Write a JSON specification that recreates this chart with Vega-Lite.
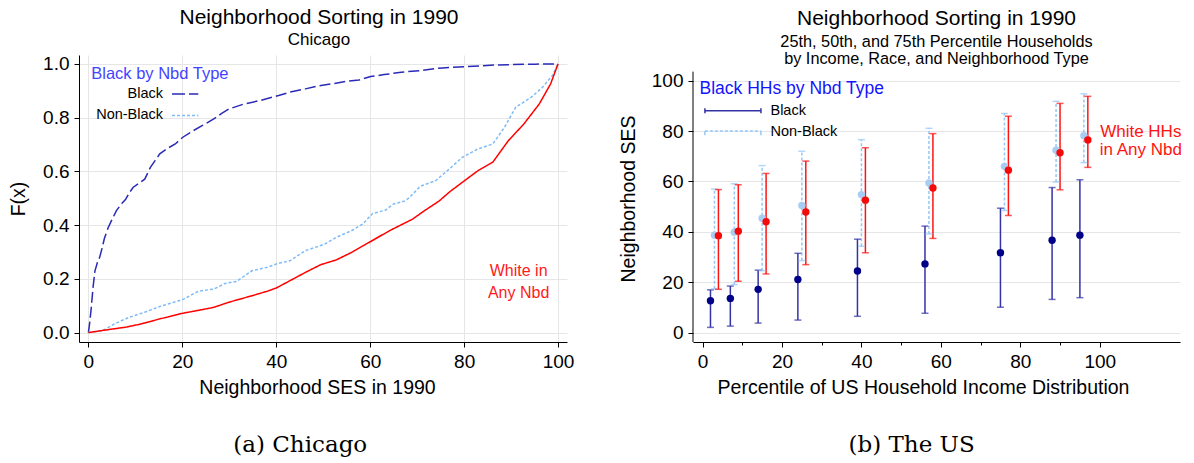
{
  "$schema": "https://vega.github.io/schema/vega-lite/v6.json",
  "background": "white",
  "padding": {"left": 8, "top": 6, "right": 4, "bottom": 4},
  "spacing": 44,
  "datasets": {
    "cdf": [
      {"group": "Black", "ses": 0, "F": 0},
      {"group": "Black", "ses": 0.3, "F": 0.04},
      {"group": "Black", "ses": 0.6, "F": 0.09},
      {"group": "Black", "ses": 1.0, "F": 0.17},
      {"group": "Black", "ses": 1.4, "F": 0.23},
      {"group": "Black", "ses": 1.9, "F": 0.26},
      {"group": "Black", "ses": 2.4, "F": 0.28},
      {"group": "Black", "ses": 3.0, "F": 0.32},
      {"group": "Black", "ses": 3.4, "F": 0.35},
      {"group": "Black", "ses": 4.2, "F": 0.39},
      {"group": "Black", "ses": 5.0, "F": 0.42},
      {"group": "Black", "ses": 6.0, "F": 0.455},
      {"group": "Black", "ses": 7.1, "F": 0.48},
      {"group": "Black", "ses": 7.9, "F": 0.495},
      {"group": "Black", "ses": 8.7, "F": 0.52},
      {"group": "Black", "ses": 9.5, "F": 0.54},
      {"group": "Black", "ses": 10.7, "F": 0.555},
      {"group": "Black", "ses": 12.0, "F": 0.571},
      {"group": "Black", "ses": 13.2, "F": 0.615},
      {"group": "Black", "ses": 14.2, "F": 0.64},
      {"group": "Black", "ses": 15.2, "F": 0.665},
      {"group": "Black", "ses": 16.8, "F": 0.685},
      {"group": "Black", "ses": 18.5, "F": 0.702},
      {"group": "Black", "ses": 20.1, "F": 0.727},
      {"group": "Black", "ses": 22.0, "F": 0.748},
      {"group": "Black", "ses": 24.2, "F": 0.77},
      {"group": "Black", "ses": 26.7, "F": 0.795},
      {"group": "Black", "ses": 28.3, "F": 0.815},
      {"group": "Black", "ses": 29.9, "F": 0.832},
      {"group": "Black", "ses": 33.0, "F": 0.85},
      {"group": "Black", "ses": 36.4, "F": 0.863},
      {"group": "Black", "ses": 40.5, "F": 0.882},
      {"group": "Black", "ses": 43.0, "F": 0.895},
      {"group": "Black", "ses": 46.2, "F": 0.907},
      {"group": "Black", "ses": 49.0, "F": 0.918},
      {"group": "Black", "ses": 52.7, "F": 0.928},
      {"group": "Black", "ses": 55.0, "F": 0.935},
      {"group": "Black", "ses": 57.6, "F": 0.94},
      {"group": "Black", "ses": 60.1, "F": 0.953},
      {"group": "Black", "ses": 63.0, "F": 0.96},
      {"group": "Black", "ses": 66.6, "F": 0.969},
      {"group": "Black", "ses": 70.7, "F": 0.975},
      {"group": "Black", "ses": 74.7, "F": 0.984},
      {"group": "Black", "ses": 80.4, "F": 0.99},
      {"group": "Black", "ses": 87.0, "F": 0.996},
      {"group": "Black", "ses": 95.1, "F": 0.999},
      {"group": "Black", "ses": 100, "F": 1.0},
      {"group": "Non-Black", "ses": 0, "F": 0},
      {"group": "Non-Black", "ses": 3.0, "F": 0.007},
      {"group": "Non-Black", "ses": 5.5, "F": 0.032},
      {"group": "Non-Black", "ses": 8.7, "F": 0.057},
      {"group": "Non-Black", "ses": 12.0, "F": 0.076},
      {"group": "Non-Black", "ses": 15.2, "F": 0.097},
      {"group": "Non-Black", "ses": 20.1, "F": 0.123},
      {"group": "Non-Black", "ses": 23.4, "F": 0.154},
      {"group": "Non-Black", "ses": 26.7, "F": 0.162},
      {"group": "Non-Black", "ses": 29.1, "F": 0.183},
      {"group": "Non-Black", "ses": 31.5, "F": 0.19},
      {"group": "Non-Black", "ses": 34.8, "F": 0.23},
      {"group": "Non-Black", "ses": 38.1, "F": 0.243},
      {"group": "Non-Black", "ses": 40.5, "F": 0.258},
      {"group": "Non-Black", "ses": 42.9, "F": 0.267},
      {"group": "Non-Black", "ses": 46.2, "F": 0.305},
      {"group": "Non-Black", "ses": 50.3, "F": 0.329},
      {"group": "Non-Black", "ses": 52.7, "F": 0.354},
      {"group": "Non-Black", "ses": 56.0, "F": 0.379},
      {"group": "Non-Black", "ses": 58.4, "F": 0.404},
      {"group": "Non-Black", "ses": 60.5, "F": 0.443},
      {"group": "Non-Black", "ses": 63.3, "F": 0.456},
      {"group": "Non-Black", "ses": 64.9, "F": 0.478},
      {"group": "Non-Black", "ses": 67.4, "F": 0.49},
      {"group": "Non-Black", "ses": 68.2, "F": 0.5},
      {"group": "Non-Black", "ses": 70.7, "F": 0.545},
      {"group": "Non-Black", "ses": 73.9, "F": 0.565},
      {"group": "Non-Black", "ses": 76.4, "F": 0.602},
      {"group": "Non-Black", "ses": 79.6, "F": 0.652},
      {"group": "Non-Black", "ses": 82.9, "F": 0.683},
      {"group": "Non-Black", "ses": 86.1, "F": 0.702},
      {"group": "Non-Black", "ses": 88.6, "F": 0.764},
      {"group": "Non-Black", "ses": 91.0, "F": 0.839},
      {"group": "Non-Black", "ses": 94.3, "F": 0.876},
      {"group": "Non-Black", "ses": 96.7, "F": 0.913},
      {"group": "Non-Black", "ses": 98.8, "F": 0.957},
      {"group": "Non-Black", "ses": 100, "F": 1.0},
      {"group": "White", "ses": 0, "F": 0},
      {"group": "White", "ses": 3.8, "F": 0.01},
      {"group": "White", "ses": 7.9, "F": 0.02},
      {"group": "White", "ses": 11.2, "F": 0.032},
      {"group": "White", "ses": 15.2, "F": 0.051},
      {"group": "White", "ses": 20.1, "F": 0.072},
      {"group": "White", "ses": 23.5, "F": 0.083},
      {"group": "White", "ses": 26.7, "F": 0.094},
      {"group": "White", "ses": 29.9, "F": 0.113},
      {"group": "White", "ses": 34.8, "F": 0.137},
      {"group": "White", "ses": 38.1, "F": 0.154},
      {"group": "White", "ses": 40.0, "F": 0.166},
      {"group": "White", "ses": 42.9, "F": 0.193},
      {"group": "White", "ses": 46.2, "F": 0.224},
      {"group": "White", "ses": 49.5, "F": 0.253},
      {"group": "White", "ses": 52.7, "F": 0.27},
      {"group": "White", "ses": 56.0, "F": 0.298},
      {"group": "White", "ses": 60.1, "F": 0.339},
      {"group": "White", "ses": 64.1, "F": 0.379},
      {"group": "White", "ses": 69.0, "F": 0.422},
      {"group": "White", "ses": 71.5, "F": 0.453},
      {"group": "White", "ses": 74.7, "F": 0.49},
      {"group": "White", "ses": 77.0, "F": 0.525},
      {"group": "White", "ses": 79.6, "F": 0.559},
      {"group": "White", "ses": 82.9, "F": 0.602},
      {"group": "White", "ses": 86.1, "F": 0.634},
      {"group": "White", "ses": 89.4, "F": 0.714},
      {"group": "White", "ses": 92.7, "F": 0.776},
      {"group": "White", "ses": 96.0, "F": 0.851},
      {"group": "White", "ses": 98.4, "F": 0.925},
      {"group": "White", "ses": 100, "F": 1.0}
    ],
    "ranges": [
      {"group": "Non-Black", "pctile": 3, "p25": 17.4, "p50": 38.7, "p75": 57.0},
      {"group": "Non-Black", "pctile": 8, "p25": 19.1, "p50": 39.9, "p75": 59.1},
      {"group": "Non-Black", "pctile": 15, "p25": 24.6, "p50": 45.4, "p75": 66.3},
      {"group": "Non-Black", "pctile": 25, "p25": 28.6, "p50": 50.5, "p75": 72.0},
      {"group": "Non-Black", "pctile": 40, "p25": 34.3, "p50": 54.8, "p75": 76.6},
      {"group": "Non-Black", "pctile": 57, "p25": 39.2, "p50": 59.4, "p75": 81.1},
      {"group": "Non-Black", "pctile": 76, "p25": 48.5, "p50": 66.0, "p75": 87.0},
      {"group": "Non-Black", "pctile": 89, "p25": 59.8, "p50": 72.4, "p75": 91.8},
      {"group": "Non-Black", "pctile": 96, "p25": 67.5, "p50": 78.2, "p75": 94.8},
      {"group": "Black", "pctile": 2, "p25": 2.1, "p50": 12.7, "p75": 17.0},
      {"group": "Black", "pctile": 7, "p25": 2.6, "p50": 13.6, "p75": 18.5},
      {"group": "Black", "pctile": 14, "p25": 3.8, "p50": 17.2, "p75": 24.8},
      {"group": "Black", "pctile": 24, "p25": 5.0, "p50": 21.1, "p75": 31.5},
      {"group": "Black", "pctile": 39, "p25": 6.5, "p50": 24.5, "p75": 37.1},
      {"group": "Black", "pctile": 56, "p25": 7.7, "p50": 27.3, "p75": 42.3},
      {"group": "Black", "pctile": 75, "p25": 10.1, "p50": 31.7, "p75": 49.4},
      {"group": "Black", "pctile": 88, "p25": 13.2, "p50": 36.7, "p75": 57.6},
      {"group": "Black", "pctile": 95, "p25": 13.9, "p50": 38.7, "p75": 60.7},
      {"group": "White", "pctile": 4, "p25": 17.2, "p50": 38.5, "p75": 56.8},
      {"group": "White", "pctile": 9, "p25": 20.4, "p50": 40.3, "p75": 58.7},
      {"group": "White", "pctile": 16, "p25": 23.3, "p50": 44.0, "p75": 63.2},
      {"group": "White", "pctile": 26, "p25": 27.0, "p50": 47.9, "p75": 68.1},
      {"group": "White", "pctile": 41, "p25": 31.7, "p50": 52.6, "p75": 73.4},
      {"group": "White", "pctile": 58, "p25": 37.4, "p50": 57.4, "p75": 79.0},
      {"group": "White", "pctile": 77, "p25": 46.5, "p50": 64.5, "p75": 85.9},
      {"group": "White", "pctile": 90, "p25": 56.7, "p50": 71.4, "p75": 91.0},
      {"group": "White", "pctile": 97, "p25": 65.6, "p50": 76.5, "p75": 93.8}
    ]
  },
  "hconcat": [
    {
      "title": {"text": "(a) Chicago", "orient": "bottom", "anchor": "middle", "frame": "bounds", "font": "DejaVu Serif", "fontSize": 23, "fontWeight": "normal", "offset": 37, "dx": 9},
      "vconcat": [
        {
          "width": 488,
          "height": 287,
          "title": {"text": "Neighborhood Sorting in 1990", "subtitle": "Chicago", "fontSize": 21, "subtitleFontSize": 17, "subtitlePadding": 4, "offset": 7, "anchor": "middle", "dx": -4},
          "layer": [
            {
              "data": {"name": "cdf"},
              "mark": {"type": "line", "strokeWidth": 1.5, "interpolate": "linear"},
              "encoding": {
                "x": {"field": "ses", "type": "quantitative",
                  "scale": {"domain": [-2, 101.9], "nice": false, "zero": false},
                  "axis": {"values": [0, 20, 40, 60, 80, 100], "title": "Neighborhood SES in 1990", "titleX": 238, "grid": true, "titlePadding": 7, "labelFlush": false, "labelOverlap": false}},
                "y": {"field": "F", "type": "quantitative",
                  "scale": {"domain": [-0.035, 1.033], "nice": false, "zero": false},
                  "axis": {"values": [0, 0.2, 0.4, 0.6, 0.8, 1.0], "format": ".1f", "title": "F(x)", "grid": true, "titlePadding": 14, "labelOverlap": false}},
                "color": {"field": "group", "type": "nominal", "legend": null,
                  "scale": {"domain": ["Black", "Non-Black", "White"], "range": ["#2a2ab8", "#7fbcf7", "#ff0000"]}},
                "strokeDash": {"field": "group", "type": "nominal", "legend": null,
                  "scale": {"domain": ["Black", "Non-Black", "White"], "range": [[11, 4], [3, 2], [1, 0]]}}
              }
            },
            {
              "data": {"values": [{}]},
              "mark": {"type": "text", "text": "Black by Nbd Type", "align": "left", "baseline": "middle", "fontSize": 16.5, "color": "#4444ff"},
              "encoding": {"x": {"datum": 0.6, "type": "quantitative"}, "y": {"datum": 0.963, "type": "quantitative"}}
            },
            {
              "data": {"values": [{}]},
              "mark": {"type": "text", "text": "Black", "align": "right", "baseline": "middle", "fontSize": 14.5, "color": "#000"},
              "encoding": {"x": {"datum": 15.9, "type": "quantitative"}, "y": {"datum": 0.888, "type": "quantitative"}}
            },
            {
              "data": {"values": [{}]},
              "mark": {"type": "rule", "color": "#2a2ab8", "strokeWidth": 1.5, "strokeDash": [13, 4]},
              "encoding": {"x": {"datum": 17.8, "type": "quantitative"}, "x2": {"datum": 23.4}, "y": {"datum": 0.888, "type": "quantitative"}}
            },
            {
              "data": {"values": [{}]},
              "mark": {"type": "text", "text": "Non-Black", "align": "right", "baseline": "middle", "fontSize": 14.5, "color": "#000"},
              "encoding": {"x": {"datum": 15.9, "type": "quantitative"}, "y": {"datum": 0.808, "type": "quantitative"}}
            },
            {
              "data": {"values": [{}]},
              "mark": {"type": "rule", "color": "#7fbcf7", "strokeWidth": 1.5, "strokeDash": [3, 2]},
              "encoding": {"x": {"datum": 17.8, "type": "quantitative"}, "x2": {"datum": 23.4}, "y": {"datum": 0.808, "type": "quantitative"}}
            },
            {
              "data": {"values": [{}]},
              "mark": {"type": "text", "text": "White in", "align": "center", "baseline": "middle", "fontSize": 16, "color": "#ff1a1a"},
              "encoding": {"x": {"datum": 91.6, "type": "quantitative"}, "y": {"datum": 0.231, "type": "quantitative"}}
            },
            {
              "data": {"values": [{}]},
              "mark": {"type": "text", "text": "Any Nbd", "align": "center", "baseline": "middle", "fontSize": 16, "color": "#ff1a1a"},
              "encoding": {"x": {"datum": 91.6, "type": "quantitative"}, "y": {"datum": 0.149, "type": "quantitative"}}
            }
          ]
        }
      ]
    },
    {
      "title": {"text": "(b) The US", "orient": "bottom", "anchor": "middle", "frame": "bounds", "font": "DejaVu Serif", "fontSize": 23, "fontWeight": "normal", "offset": 37, "dx": 11},
      "vconcat": [
        {
          "width": 487,
          "height": 287,
          "title": {"text": "Neighborhood Sorting in 1990", "subtitle": ["25th, 50th, and 75th Percentile Households", "by Income, Race, and Neighborhood Type"], "fontSize": 21, "subtitleFontSize": 16.3, "subtitleLineHeight": 16.5, "subtitlePadding": 5, "offset": -12, "anchor": "middle"},
          "resolve": {"scale": {"color": "independent"}},
          "layer": [
            {
              "data": {"name": "ranges"},
              "transform": [{"filter": "datum.group !== 'Non-Black'"}],
              "mark": {"type": "rule", "strokeWidth": 1.5},
              "encoding": {
                "x": {"field": "pctile", "type": "quantitative",
                  "scale": {"domain": [-2.4, 120.2], "nice": false, "zero": false},
                  "axis": {"values": [0, 10, 20, 30, 40, 50, 60, 70, 80, 90, 100], "labelExpr": "datum.value % 20 === 0 ? datum.label : ''", "title": "Percentile of US Household Income Distribution", "titleX": 230, "grid": false, "titlePadding": 7, "labelFlush": false, "labelOverlap": false,
                    "tickSize": {"condition": {"test": "datum.value % 20 === 0", "value": 5}, "value": 3}}},
                "y": {"field": "p25", "type": "quantitative",
                  "scale": {"domain": [-3.7, 110.2], "nice": false, "zero": false},
                  "axis": {"values": [0, 10, 20, 30, 40, 50, 60, 70, 80, 90, 100], "labelExpr": "datum.value % 20 === 0 ? datum.label : ''", "title": "Neighborhood SES", "grid": true, "domain": false, "titlePadding": 13, "labelOverlap": false,
                    "tickSize": {"condition": {"test": "datum.value % 20 === 0", "value": 5}, "value": 3}}},
                "y2": {"field": "p75"},
                "color": {"field": "group", "type": "nominal", "legend": null,
                  "scale": {"domain": ["Black", "White"], "range": ["#3333a6", "#ff1414"]}}
              }
            },
            {
              "data": {"name": "ranges"},
              "transform": [{"filter": "datum.group === 'Non-Black'"}],
              "mark": {"type": "rule", "strokeWidth": 1.5, "color": "#94c8f8", "strokeDash": [3, 2]},
              "encoding": {
                "x": {"field": "pctile", "type": "quantitative"},
                "y": {"field": "p25", "type": "quantitative"},
                "y2": {"field": "p75"}
              }
            },
            {
              "data": {"name": "ranges"},
              "mark": {"type": "tick", "orient": "horizontal", "size": 7, "thickness": 1.5},
              "encoding": {
                "x": {"field": "pctile", "type": "quantitative"},
                "y": {"field": "p75", "type": "quantitative"},
                "color": {"field": "group", "type": "nominal", "legend": null,
                  "scale": {"domain": ["Black", "Non-Black", "White"], "range": ["#3333a6", "#94c8f8", "#ff1414"]}}
              }
            },
            {
              "data": {"name": "ranges"},
              "mark": {"type": "tick", "orient": "horizontal", "size": 7, "thickness": 1.5},
              "encoding": {
                "x": {"field": "pctile", "type": "quantitative"},
                "y": {"field": "p25", "type": "quantitative"},
                "color": {"field": "group", "type": "nominal", "legend": null,
                  "scale": {"domain": ["Black", "Non-Black", "White"], "range": ["#3333a6", "#94c8f8", "#ff1414"]}}
              }
            },
            {
              "data": {"name": "ranges"},
              "mark": {"type": "point", "filled": true, "size": 55, "opacity": 1},
              "encoding": {
                "x": {"field": "pctile", "type": "quantitative"},
                "y": {"field": "p50", "type": "quantitative"},
                "color": {"field": "group", "type": "nominal", "legend": null,
                  "scale": {"domain": ["Black", "Non-Black", "White"], "range": ["#000088", "#a8cdf2", "#f50a0a"]}}
              }
            },
            {
              "data": {"values": [{}]},
              "mark": {"type": "rule", "color": "#000", "strokeWidth": 1},
              "encoding": {"x": {"datum": -2.4, "type": "quantitative"}, "y": {"datum": -3.7, "type": "quantitative"}, "y2": {"datum": 103.6}}
            },
            {
              "data": {"values": [{}]},
              "mark": {"type": "text", "text": "Black HHs by Nbd Type", "align": "left", "baseline": "middle", "fontSize": 17.5, "color": "#1414ff"},
              "encoding": {"x": {"datum": -0.75, "type": "quantitative"}, "y": {"datum": 96.7, "type": "quantitative"}}
            },
            {
              "data": {"values": [{}]},
              "mark": {"type": "rule", "color": "#3333a6", "strokeWidth": 1.5},
              "encoding": {"x": {"datum": 0.6, "type": "quantitative"}, "x2": {"datum": 14.7}, "y": {"datum": 88.1, "type": "quantitative"}}
            },
            {
              "data": {"values": [{}]},
              "mark": {"type": "rule", "color": "#3333a6", "strokeWidth": 1.5},
              "encoding": {"x": {"datum": 0.6, "type": "quantitative"}, "y": {"datum": 87.1, "type": "quantitative"}, "y2": {"datum": 89.1}}
            },
            {
              "data": {"values": [{}]},
              "mark": {"type": "rule", "color": "#3333a6", "strokeWidth": 1.5},
              "encoding": {"x": {"datum": 14.7, "type": "quantitative"}, "y": {"datum": 87.1, "type": "quantitative"}, "y2": {"datum": 89.1}}
            },
            {
              "data": {"values": [{}]},
              "mark": {"type": "text", "text": "Black", "align": "left", "baseline": "middle", "fontSize": 14.5, "color": "#000"},
              "encoding": {"x": {"datum": 17.1, "type": "quantitative"}, "y": {"datum": 88.1, "type": "quantitative"}}
            },
            {
              "data": {"values": [{}]},
              "mark": {"type": "rule", "color": "#94c8f8", "strokeWidth": 1.5, "strokeDash": [3, 2]},
              "encoding": {"x": {"datum": 0.6, "type": "quantitative"}, "x2": {"datum": 14.7}, "y": {"datum": 80.0, "type": "quantitative"}}
            },
            {
              "data": {"values": [{}]},
              "mark": {"type": "rule", "color": "#94c8f8", "strokeWidth": 1.5},
              "encoding": {"x": {"datum": 0.6, "type": "quantitative"}, "y": {"datum": 78.4, "type": "quantitative"}, "y2": {"datum": 80.0}}
            },
            {
              "data": {"values": [{}]},
              "mark": {"type": "rule", "color": "#94c8f8", "strokeWidth": 1.5},
              "encoding": {"x": {"datum": 14.7, "type": "quantitative"}, "y": {"datum": 78.4, "type": "quantitative"}, "y2": {"datum": 80.0}}
            },
            {
              "data": {"values": [{}]},
              "mark": {"type": "text", "text": "Non-Black", "align": "left", "baseline": "middle", "fontSize": 14.5, "color": "#000"},
              "encoding": {"x": {"datum": 17.1, "type": "quantitative"}, "y": {"datum": 79.8, "type": "quantitative"}}
            },
            {
              "data": {"values": [{}]},
              "mark": {"type": "text", "text": "White HHs", "align": "left", "baseline": "middle", "fontSize": 17, "color": "#ff1414"},
              "encoding": {"x": {"datum": 100.1, "type": "quantitative"}, "y": {"datum": 79.7, "type": "quantitative"}}
            },
            {
              "data": {"values": [{}]},
              "mark": {"type": "text", "text": "in Any Nbd", "align": "left", "baseline": "middle", "fontSize": 17, "color": "#ff1414"},
              "encoding": {"x": {"datum": 100.0, "type": "quantitative"}, "y": {"datum": 72.3, "type": "quantitative"}}
            }
          ]
        }
      ]
    }
  ],
  "config": {
    "font": "Liberation Sans",
    "view": {"stroke": null},
    "axis": {
      "labelFont": "Liberation Sans",
      "titleFont": "Liberation Sans",
      "labelFontSize": 19,
      "titleFontSize": 19.5,
      "titleFontWeight": "normal",
      "labelColor": "#000",
      "titleColor": "#000",
      "domainColor": "#000",
      "domainWidth": 1,
      "tickColor": "#000",
      "tickSize": 5,
      "tickWidth": 1,
      "labelPadding": 5,
      "gridColor": "#e6e6e6",
      "gridWidth": 1
    },
    "title": {
      "font": "Liberation Sans",
      "subtitleFont": "Liberation Sans",
      "fontWeight": "normal",
      "color": "#000",
      "subtitleColor": "#000"
    }
  }
}
